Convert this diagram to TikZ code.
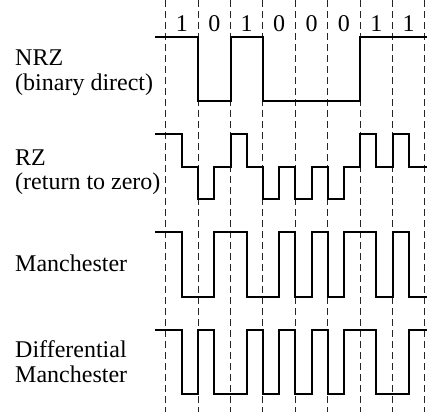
\documentclass[tikz,border=0pt]{standalone}
\usepackage{fontspec}
\setmainfont{Liberation Serif}
\begin{document}
\begin{tikzpicture}[x=1pt,y=-1pt,
  signal/.style={line width=2pt, line join=miter},
  slot/.style={line width=1pt, dash pattern=on 7pt off 4pt, black!85},
  lbl/.style={anchor=base west, font=\fontsize{24}{25}\selectfont, inner sep=0pt},
  bitval/.style={anchor=base, font=\fontsize{24}{25}\selectfont, inner sep=0pt}]
\useasboundingbox (0,0) rectangle (427,412);

% bit slot boundaries (x = 165.7 + 32.4 k)
\foreach \k in {0,...,8}
  \draw[slot] ({165.7+32.4*\k},0) -- ({165.7+32.4*\k},412);

% transmitted bits
\foreach \b [count=\k from 0] in {1,0,1,0,0,0,1,1}
  \node[bitval] (bit\k) at ({181.9+32.4*\k},31) {\b};

% encoding names
\node[lbl] (nrz)  at (15,65)  {NRZ};
\node[lbl] (nrzb) at (15,90)  {(binary direct)};
\node[lbl] (rz)   at (15,165) {RZ};
\node[lbl] (rzb)  at (15,189) {(return to zero)};
\node[lbl] (man)  at (15,271) {Manchester};
\node[lbl] (dif)  at (15,357) {Differential};
\node[lbl] (difb) at (15,382) {Manchester};

% NRZ: high = 1, low = 0
\draw[signal] (155,37) -| (198.1,101) -| (230.5,37) -| (262.9,101)
  -| (360.1,37) -- (427,37);

% RZ: pulse in first half, back to zero level in second half
\draw[signal] (155,134) -| (181.9,167) -| (198.1,199) -| (214.3,167)
  -| (230.5,134) -| (246.7,167) -| (262.9,199) -| (279.1,167)
  -| (295.3,199) -| (311.5,167) -| (327.7,199) -| (343.9,167)
  -| (360.1,134) -| (376.3,167) -| (392.5,134) -| (408.7,167) -- (427,167);

% Manchester: 1 = high-to-low, 0 = low-to-high at mid-bit
\draw[signal] (155,232) -| (181.9,297) -| (214.3,232) -| (246.7,297)
  -| (279.1,232) -| (295.3,297) -| (311.5,232) -| (327.7,297)
  -| (343.9,232) -| (376.3,297) -| (392.5,232) -| (408.7,297) -- (427,297);

% Differential Manchester: mid-bit transition always, extra one at start of a 0
\draw[signal] (155,330) -| (181.9,394) -| (198.1,330) -| (214.3,394)
  -| (246.7,330) -| (262.9,394) -| (279.1,330) -| (295.3,394)
  -| (311.5,330) -| (327.7,394) -| (343.9,330) -| (376.3,394)
  -| (408.7,330) -- (427,330);
\end{tikzpicture}
\end{document}
